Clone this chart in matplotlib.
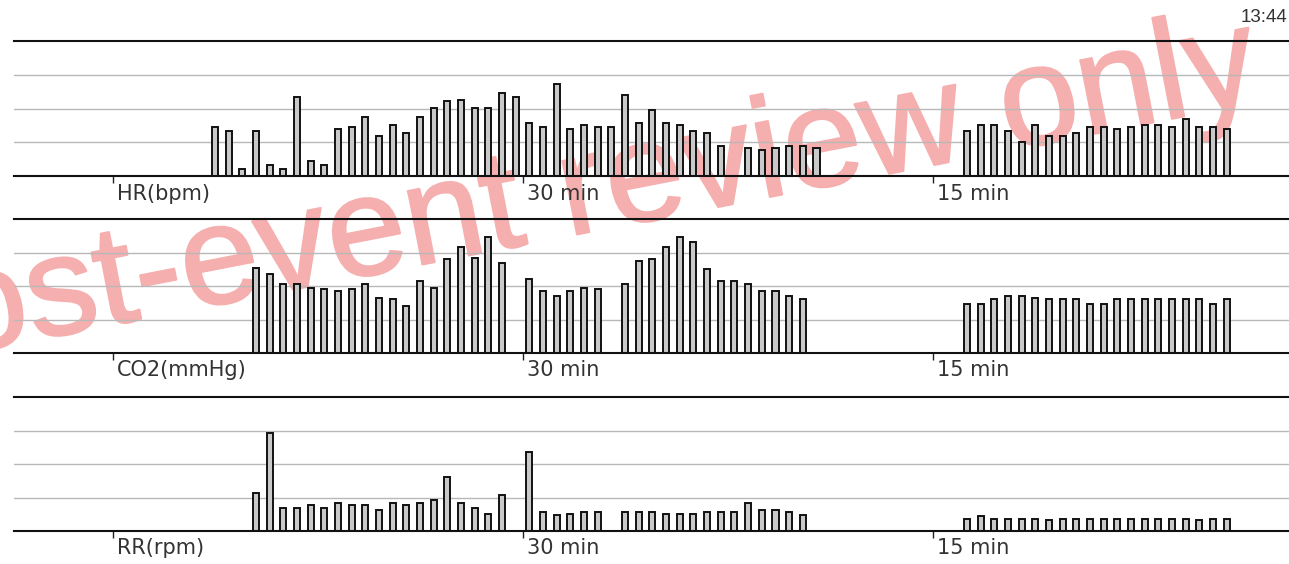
import numpy as np
import matplotlib
matplotlib.use("Agg")
import matplotlib.pyplot as plt
import matplotlib.patheffects as pe
from matplotlib.transforms import blended_transform_factory

nan = np.nan

# ---- trend data: one bar per minute bin (nan = no sample) ----
hr_trend_start = 7
hr_trend = [72, 66, 10, 66, 16, 10, 117, 22, 16, 70, 72, 88, 60, 76, 63, 88,
            101, 111, 113, 101, 101, 123, 117, 79,
            72, 136, 70, 76, 72, 72, 120, 79, 98, 79, 76, 66, 63, 44,
            nan, 41, 38, 41, 44, 44, 41]
hr_recent_start = 62
hr_recent = [66, 76, 76, 66, 51, 76, 60, 60, 63, 73, 73, 70, 73, 76, 76, 73,
             85, 73, 73, 70]

co2_trend_start = 10
co2_trend = [51, 47, 41, 41, 39, 38, 37, 38, 41, 33, 32, 28, 43, 39, 56, 63,
             57, 69, 54,
             nan, 44, 37, 34, 37, 39, 38,
             nan, 41, 55, 56, 63, 69, 66, 50, 43, 43, 41, 37, 37, 34, 32]
co2_recent_start = 62
co2_recent = [29, 29, 32, 34, 34, 33, 32, 32, 32, 29, 29, 32, 32, 32, 32, 32,
              32, 32, 29, 32]

rr_trend_start = 10
rr_trend = [17, 44, 10.5, 10.5, 11.5, 10.5, 12.5, 11.5, 11.5, 9.5, 12.5, 11.5,
            12.5, 14, 24, 12.5, 10.5, 7.5, 16,
            nan, 35.5, 8.5, 7, 7.5, 8.5, 8.5,
            nan, 8.5, 8.5, 8.5, 7.5, 7.5, 7.5, 8.5, 8.5, 8.5, 12.5, 9.5, 9.5,
            8.5, 7]
rr_recent_start = 62
rr_recent = [5.5, 6.5, 5.5, 5.5, 5.5, 5.5, 5, 5.5, 5.5, 5.5, 5.5, 5.5, 5.5,
             5.5, 5.5, 5.5, 5.5, 5, 5.5, 5.5]

param_names = ["HR(bpm)", "CO2(mmHg)", "RR(rpm)"]
full_scales = [200, 80, 60]
time_ticks = [0, 30, 60]
time_labels = ["30 min", "15 min"]
clock_text = "13:44"
watermark_text = "Post-event review only"

series = [
    (hr_trend_start, hr_trend, hr_recent_start, hr_recent),
    (co2_trend_start, co2_trend, co2_recent_start, co2_recent),
    (rr_trend_start, rr_trend, rr_recent_start, rr_recent),
]

# ---- figure ----
W, H = 1289, 564
fig = plt.figure(figsize=(W / 100, H / 100), dpi=100, facecolor="white")

# panel top / bottom rows in pixels
panel_rows = [(41, 176), (219, 353), (397, 531)]
x_left_px = 14
px_per_min = 13.67
tick0_px = 112.5
xmin = (x_left_px - tick0_px) / px_per_min
xmax = xmin + (W - x_left_px) / px_per_min

text_color = "#333333"

for (top, bot), name, fs, (s1, v1, s2, v2) in zip(panel_rows, param_names,
                                                   full_scales, series):
    ax = fig.add_axes([x_left_px / W, 1 - bot / H, (W - x_left_px) / W,
                       (bot - top) / H])
    ax.set_facecolor("none")
    ax.set_xlim(xmin, xmax)
    ax.set_ylim(0, fs)

    for start, vals in ((s1, v1), (s2, v2)):
        vals = np.asarray(vals, dtype=float)
        bins = start + np.arange(len(vals))
        ok = ~np.isnan(vals)
        ax.bar(bins[ok] + 0.5, vals[ok], width=0.44, bottom=0,
               facecolor="#c9c9c9", edgecolor="#111111", linewidth=1.4,
               zorder=3)

    # horizontal reference lines at quarters of full scale
    for q in (0.25, 0.5, 0.75):
        ax.axhline(fs * q, color="#b8b8b8", linewidth=1.0, zorder=1)

    for side in ("left", "right"):
        ax.spines[side].set_visible(False)
    for side in ("top", "bottom"):
        ax.spines[side].set_color("#111111")
        ax.spines[side].set_linewidth(1.5)
        ax.spines[side].set_zorder(4)

    ax.set_yticks([])
    ax.set_xticks(time_ticks)
    ax.set_xticklabels([])
    ax.tick_params(axis="x", direction="out", length=5, width=1.0,
                   color="#222222")

    trans = blended_transform_factory(ax.transData, ax.transAxes)
    for t, lab in zip(time_ticks, [name] + time_labels):
        ax.text(t + 0.3, -0.13, lab, transform=trans, ha="left",
                va="center", fontsize=15, color=text_color,
                family="DejaVu Sans")

# clock in the top-right corner
fig.text(1287 / W, 1 - 18 / H, clock_text, ha="right", va="center",
         fontsize=13.5, color=text_color, family="Liberation Sans")

# diagonal watermark behind the charts
wm_color = "#f6afaf"
fig.text(-136 / W, 1 - 373 / H, watermark_text, ha="left", va="baseline",
         rotation=11.0, rotation_mode="anchor", fontsize=102,
         color=wm_color, family="Liberation Sans", zorder=-1,
         path_effects=[pe.withStroke(linewidth=1.5, foreground=wm_color)])

fig.savefig("out.png", dpi=100, facecolor="white")
